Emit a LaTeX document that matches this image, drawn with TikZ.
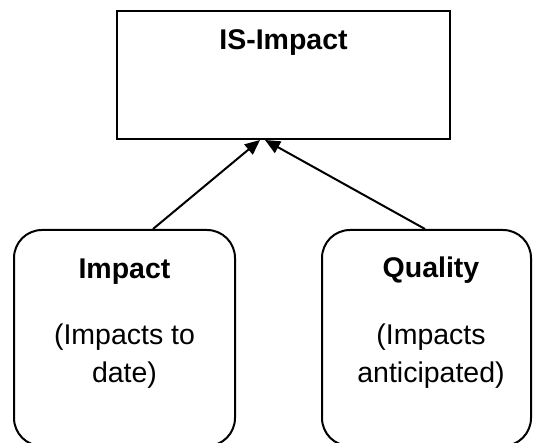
\documentclass[tikz,border=0pt]{standalone}
\usepackage{fontspec}
\setmainfont{Liberation Sans}
\usetikzlibrary{arrows.meta}

\begin{document}
\begin{tikzpicture}[x=1pt,y=-1pt]
                        \tikzstyle{box}=[draw,line width=2pt,inner sep=0pt]
                        \tikzstyle{txt}=[inner sep=0pt,align=center,font=\fontsize{28.5}{38}\selectfont]
                        \tikzstyle{arr}=[line width=2pt,-{Triangle[length=15pt,width=13pt]}]
                        \useasboundingbox (0,0) rectangle (533,443);
                        % top box
                        \node[box,minimum width=333pt,minimum height=128pt] (isbox) at (283.5,75) {};
                        \node[txt,anchor=base] (istitle) at (283.5,50) {\textbf{IS-Impact}};
                        % lower boxes
                        \node[box,rounded corners=28pt,minimum width=221pt,minimum height=216pt] (impactbox) at (124.5,338) {};
                        \node[box,rounded corners=28pt,minimum width=209pt,minimum height=216pt] (qualitybox) at (426.5,338) {};
                        \node[txt,anchor=base] (impacttitle) at (124.5,279) {\textbf{Impact}};
                        \node[txt,anchor=base] (impactdesc) at (124.5,383) {(Impacts to\\date)};
                        \node[txt,anchor=base] (qualitytitle) at (431,278) {\textbf{Quality}};
                        \node[txt,anchor=base] (qualitydesc) at (431,383) {(Impacts\\anticipated)};
                        % arrows
                        \draw[arr] ([xshift=28.5pt]impactbox.north) -- ([xshift=-23.5pt]isbox.south);
                        \draw[arr] ([xshift=-1.5pt]qualitybox.north) -- ([xshift=-18.5pt]isbox.south);
                    \end{tikzpicture}
\end{document}
